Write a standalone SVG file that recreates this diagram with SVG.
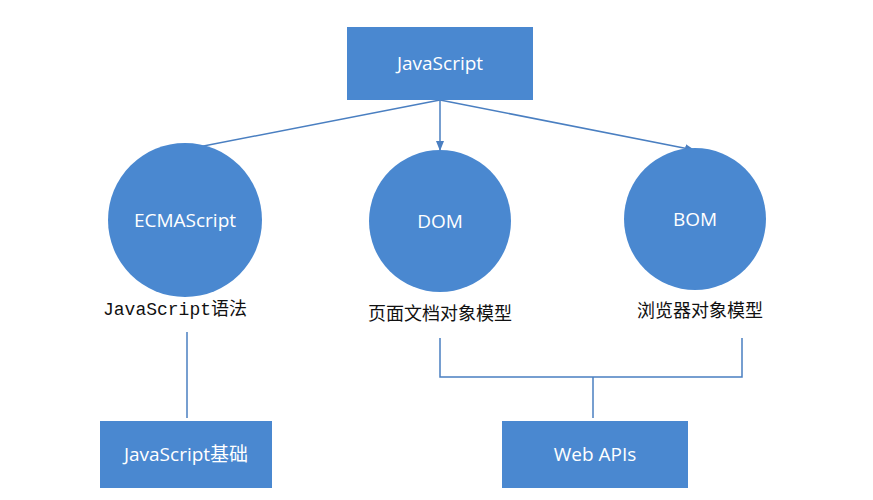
<svg xmlns="http://www.w3.org/2000/svg" width="873" height="500" viewBox="0 0 873 500">
<defs>
<marker id="ah" markerWidth="10" markerHeight="8" refX="9" refY="4" orient="auto" markerUnits="userSpaceOnUse"><path d="M0,0 L10,4 L0,8 z" fill="#4a7fc1"/></marker>
<style>
.n{fill:#4a88d0}
.w{fill:#fff;font-family:"Open Sans","Noto Sans CJK SC",sans-serif;font-size:19px;text-anchor:middle}
.k{fill:#111;font-family:"Noto Sans","Noto Sans CJK SC",sans-serif;font-size:18px;text-anchor:middle}
.c{stroke:#4a7fc1;stroke-width:1.5;fill:none}
</style>
</defs>
<rect width="873" height="500" fill="#fff"/>
<g id="connectors">
<line class="c" x1="440" y1="100" x2="183" y2="150" marker-end="url(#ah)"/>
<line class="c" x1="440" y1="100" x2="440" y2="150" marker-end="url(#ah)"/>
<line class="c" x1="440" y1="100" x2="694" y2="150" marker-end="url(#ah)"/>
<line class="c" x1="187" y1="332" x2="187" y2="418"/>
<polyline class="c" points="440,338 440,377 742,377 742,338"/>
<line class="c" x1="593" y1="377" x2="593" y2="418"/>
</g>
<g id="javascript"><rect class="n" x="347" y="27" width="186" height="73"/><text class="w" x="440" y="70">JavaScript</text></g>
<g id="ecmascript"><circle class="n" cx="185" cy="220" r="77"/><text class="w" x="185" y="227">ECMAScript</text>
<text x="175" y="315" style="font-size:18px;text-anchor:middle;fill:#111"><tspan font-family="Liberation Mono,monospace">JavaScript</tspan><tspan font-family="Noto Sans CJK SC,sans-serif">语法</tspan></text></g>
<g id="dom"><circle class="n" cx="440" cy="221" r="71"/><text class="w" x="440" y="228">DOM</text><text class="k" x="440" y="320">页面文档对象模型</text></g>
<g id="bom"><circle class="n" cx="695" cy="219" r="71"/><text class="w" x="695" y="226">BOM</text><text class="k" x="700" y="317">浏览器对象模型</text></g>
<g id="jsbase"><rect class="n" x="100" y="421" width="172" height="67"/><text class="w" x="186" y="461">JavaScript基础</text></g>
<g id="webapis"><rect class="n" x="502" y="421" width="186" height="67"/><text class="w" x="595" y="461">Web APIs</text></g>
</svg>
